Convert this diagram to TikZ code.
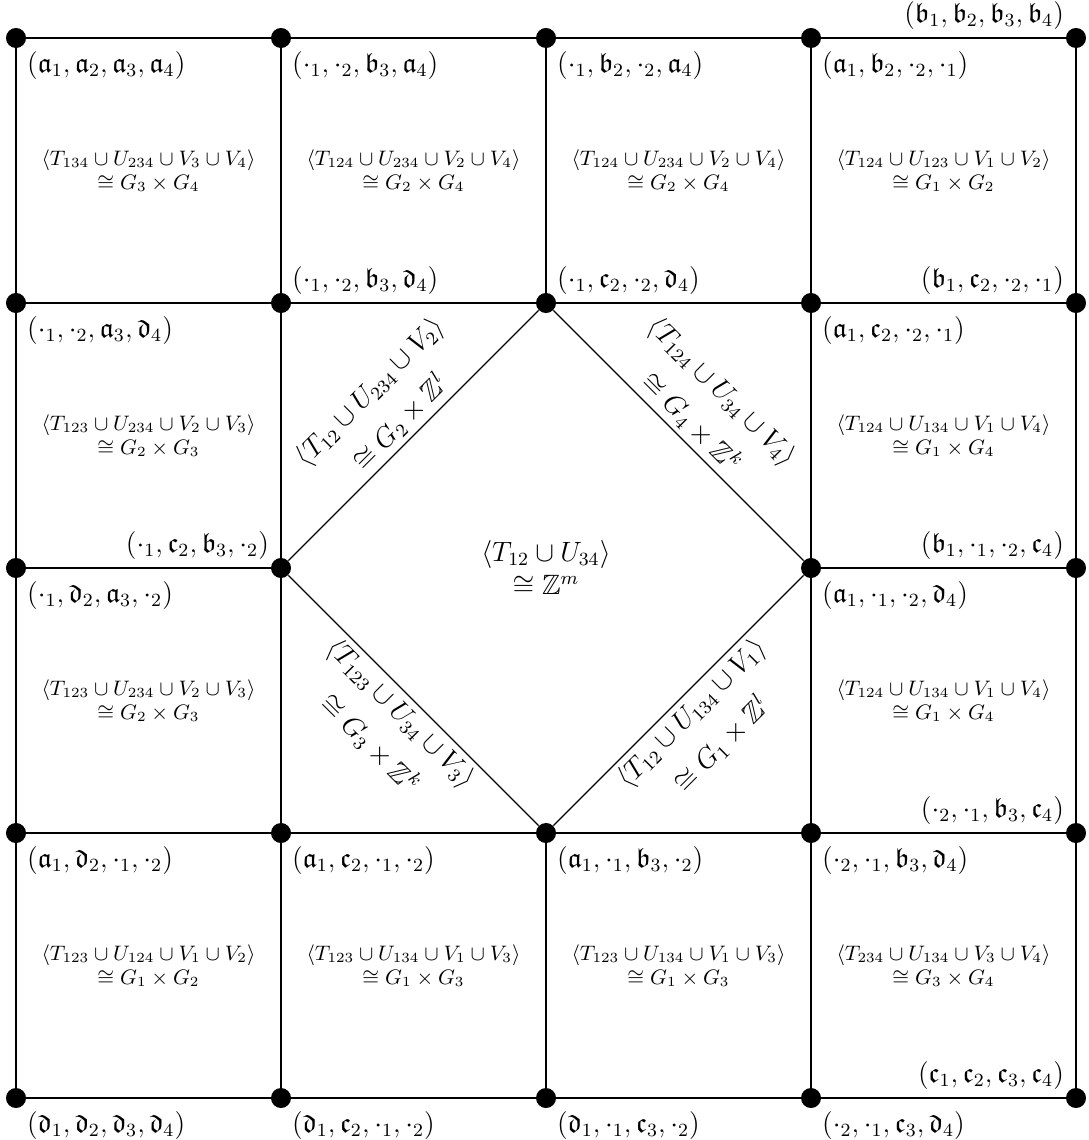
\documentclass[tikz,border=0pt]{standalone}
\usepackage{amsmath,amssymb}
\newcommand{\fa}[1]{\mathfrak{a}_{#1}}
\newcommand{\fb}[1]{\mathfrak{b}_{#1}}
\newcommand{\fc}[1]{\mathfrak{c}_{#1}}
\newcommand{\fd}[1]{\mathfrak{d}_{#1}}
\newcommand{\ct}[1]{\cdot_{#1}}
\begin{document}
\begin{tikzpicture}[x=4cm,y=-4cm,
  dot/.style={circle,fill=black,inner sep=0pt,minimum size=8.6pt},
  edge/.style={line width=0.5pt},
  lbl/.style={inner sep=0pt,font=\large},
  br/.style={lbl,anchor=north west,xshift=4.6pt,yshift=-5.6pt},
  al/.style={lbl,anchor=south east,xshift=-5pt,yshift=3.6pt},
  ar/.style={lbl,anchor=south west,xshift=4.6pt,yshift=3.6pt},
  sq/.style={align=center,font=\fontsize{8.7pt}{10.2pt}\selectfont},
  dg/.style={align=center,font=\large,sloped,midway,inner sep=2pt}]
\useasboundingbox (-0.0604,-0.1434) rectangle (4.0453,4.1585);
% dots
\foreach \i in {0,...,4}{
  \foreach \j in {0,...,4}{
    \ifnum\i=2 \ifnum\j=2 \else \node[dot] (g-\i-\j) at (\i,\j) {}; \fi
    \else \node[dot] (g-\i-\j) at (\i,\j) {}; \fi
  }
}
% grid lines
\draw[edge] (g-0-0) -- (g-1-0) -- (g-2-0) -- (g-3-0) -- (g-4-0);
\draw[edge] (g-0-1) -- (g-1-1) -- (g-2-1) -- (g-3-1) -- (g-4-1);
\draw[edge] (g-0-2) -- (g-1-2);
\draw[edge] (g-3-2) -- (g-4-2);
\draw[edge] (g-0-3) -- (g-1-3) -- (g-2-3) -- (g-3-3) -- (g-4-3);
\draw[edge] (g-0-4) -- (g-1-4) -- (g-2-4) -- (g-3-4) -- (g-4-4);
\draw[edge] (g-0-0) -- (g-0-1) -- (g-0-2) -- (g-0-3) -- (g-0-4);
\draw[edge] (g-1-0) -- (g-1-1) -- (g-1-2) -- (g-1-3) -- (g-1-4);
\draw[edge] (g-2-0) -- (g-2-1);
\draw[edge] (g-2-3) -- (g-2-4);
\draw[edge] (g-3-0) -- (g-3-1) -- (g-3-2) -- (g-3-3) -- (g-3-4);
\draw[edge] (g-4-0) -- (g-4-1) -- (g-4-2) -- (g-4-3) -- (g-4-4);
% diamond
\draw[edge] (g-1-2) -- node[dg,above] (d1) {$\langle T_{12}\cup U_{234}\cup V_2\rangle$\\[5pt]$\cong G_2\times\mathbb{Z}^l$} (g-2-1);
\draw[edge] (g-2-1) -- node[dg,above] (d2) {$\langle T_{124}\cup U_{34}\cup V_4\rangle$\\[5pt]$\cong G_4\times\mathbb{Z}^k$} (g-3-2);
\draw[edge] (g-1-2) -- node[dg,below] (d3) {$\langle T_{123}\cup U_{34}\cup V_3\rangle$\\[5pt]$\cong G_3\times\mathbb{Z}^k$} (g-2-3);
\draw[edge] (g-2-3) -- node[dg,below] (d4) {$\langle T_{12}\cup U_{134}\cup V_1\rangle$\\[5pt]$\cong G_1\times\mathbb{Z}^l$} (g-3-2);
\node[align=center,font=\large] (ctr) at (2,2) {$\langle T_{12}\cup U_{34}\rangle$\\$\cong\mathbb{Z}^m$};
% square labels
\node[sq] (s00) at (0.5,0.5) {$\langle T_{134}\cup U_{234}\cup V_3\cup V_4\rangle$\\$\cong G_3\times G_4$};
\node[sq] (s10) at (1.5,0.5) {$\langle T_{124}\cup U_{234}\cup V_2\cup V_4\rangle$\\$\cong G_2\times G_4$};
\node[sq] (s20) at (2.5,0.5) {$\langle T_{124}\cup U_{234}\cup V_2\cup V_4\rangle$\\$\cong G_2\times G_4$};
\node[sq] (s30) at (3.5,0.5) {$\langle T_{124}\cup U_{123}\cup V_1\cup V_2\rangle$\\$\cong G_1\times G_2$};
\node[sq] (s01) at (0.5,1.5) {$\langle T_{123}\cup U_{234}\cup V_2\cup V_3\rangle$\\$\cong G_2\times G_3$};
\node[sq] (s31) at (3.5,1.5) {$\langle T_{124}\cup U_{134}\cup V_1\cup V_4\rangle$\\$\cong G_1\times G_4$};
\node[sq] (s02) at (0.5,2.5) {$\langle T_{123}\cup U_{234}\cup V_2\cup V_3\rangle$\\$\cong G_2\times G_3$};
\node[sq] (s32) at (3.5,2.5) {$\langle T_{124}\cup U_{134}\cup V_1\cup V_4\rangle$\\$\cong G_1\times G_4$};
\node[sq] (s03) at (0.5,3.5) {$\langle T_{123}\cup U_{124}\cup V_1\cup V_2\rangle$\\$\cong G_1\times G_2$};
\node[sq] (s13) at (1.5,3.5) {$\langle T_{123}\cup U_{134}\cup V_1\cup V_3\rangle$\\$\cong G_1\times G_3$};
\node[sq] (s23) at (2.5,3.5) {$\langle T_{123}\cup U_{134}\cup V_1\cup V_3\rangle$\\$\cong G_1\times G_3$};
\node[sq] (s33) at (3.5,3.5) {$\langle T_{234}\cup U_{134}\cup V_3\cup V_4\rangle$\\$\cong G_3\times G_4$};
% vertex labels row 0
\node[br] (l00) at (g-0-0) {$(\fa1,\fa2,\fa3,\fa4)$};
\node[br] (l10) at (g-1-0) {$(\ct1,\ct2,\fb3,\fa4)$};
\node[br] (l20) at (g-2-0) {$(\ct1,\fb2,\ct2,\fa4)$};
\node[br] (l30) at (g-3-0) {$(\fa1,\fb2,\ct2,\ct1)$};
\node[al] (l40) at (g-4-0) {$(\fb1,\fb2,\fb3,\fb4)$};
% row 1
\node[br] (l01) at (g-0-1) {$(\ct1,\ct2,\fa3,\fd4)$};
\node[ar] (l11) at (g-1-1) {$(\ct1,\ct2,\fb3,\fd4)$};
\node[ar] (l21) at (g-2-1) {$(\ct1,\fc2,\ct2,\fd4)$};
\node[br] (l31) at (g-3-1) {$(\fa1,\fc2,\ct2,\ct1)$};
\node[al] (l41) at (g-4-1) {$(\fb1,\fc2,\ct2,\ct1)$};
% row 2
\node[br] (l02) at (g-0-2) {$(\ct1,\fd2,\fa3,\ct2)$};
\node[al] (l12) at (g-1-2) {$(\ct1,\fc2,\fb3,\ct2)$};
\node[br] (l32) at (g-3-2) {$(\fa1,\ct1,\ct2,\fd4)$};
\node[al] (l42) at (g-4-2) {$(\fb1,\ct1,\ct2,\fc4)$};
% row 3
\node[br] (l03) at (g-0-3) {$(\fa1,\fd2,\ct1,\ct2)$};
\node[br] (l13) at (g-1-3) {$(\fa1,\fc2,\ct1,\ct2)$};
\node[br] (l23) at (g-2-3) {$(\fa1,\ct1,\fb3,\ct2)$};
\node[br] (l33) at (g-3-3) {$(\ct2,\ct1,\fb3,\fd4)$};
\node[al] (l43) at (g-4-3) {$(\ct2,\ct1,\fb3,\fc4)$};
% row 4
\node[br] (l04) at (g-0-4) {$(\fd1,\fd2,\fd3,\fd4)$};
\node[br] (l14) at (g-1-4) {$(\fd1,\fc2,\ct1,\ct2)$};
\node[br] (l24) at (g-2-4) {$(\fd1,\ct1,\fc3,\ct2)$};
\node[br] (l34) at (g-3-4) {$(\ct2,\ct1,\fc3,\fd4)$};
\node[al] (l44) at (g-4-4) {$(\fc1,\fc2,\fc3,\fc4)$};
\end{tikzpicture}
\end{document}
